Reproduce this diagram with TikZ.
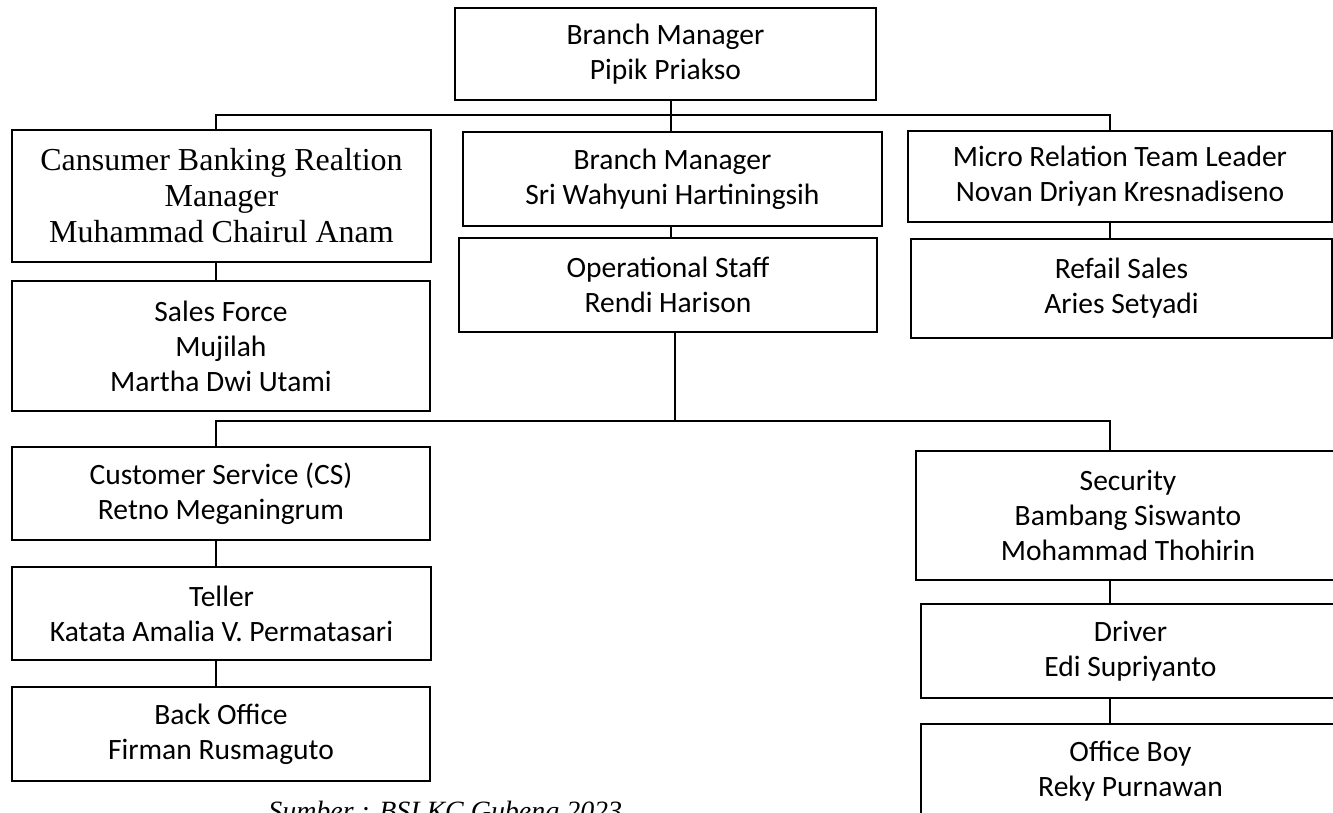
\documentclass[tikz,border=0pt]{standalone}
\usepackage{fontspec}
\setmainfont{Carlito}
\newfontfamily\timesfont{Liberation Serif}
\usepackage{tikz}
\usetikzlibrary{calc,positioning}

\newlength\px
\setlength\px{0.02cm}

\begin{document}
\begin{tikzpicture}[x=0.02cm,y=-0.02cm,
        post/.style={draw,line width=1.4pt,align=center,inner sep=0pt,
            font=\fontsize{16.8}{19.9}\selectfont},
        tie/.style={line width=1.4pt}]

                                \useasboundingbox (0,0) rectangle (1333,813);

                                % top level
                                \node[post,minimum width=421\px,minimum height=92\px] (bm) at (665.5,54) {Branch Manager\\Pipik Priakso};

                                % second level
                                \node[post,minimum width=419\px,minimum height=132\px,
                                    font=\timesfont\fontsize{18.2}{20.5}\selectfont] (cbrm) at (221.5,196) {Cansumer Banking Realtion\\Manager\\Muhammad Chairul Anam};
                                \node[post,minimum width=419\px,minimum height=94\px] (bmtwo) at (672.5,179) {Branch Manager\\Sri Wahyuni Hartiningsih};
                                \node[post,minimum width=424\px,minimum height=91\px] (micro) at (1120,176.5) {Micro Relation Team Leader\\Novan Driyan Kresnadiseno};

                                \node[post,minimum width=418\px,minimum height=130\px] (sales) at (221,346) {Sales Force\\Mujilah\\Martha Dwi Utami};
                                \node[post,minimum width=418\px,minimum height=94\px] (ops) at (668,285) {Operational Staff\\Rendi Harison};
                                \node[post,minimum width=421\px,minimum height=99\px] (retail) at (1121.5,288.5) {Refail Sales\\Aries Setyadi};

                                % operational branch
                                \node[post,minimum width=418\px,minimum height=93\px] (cs) at (221,493.5) {Customer Service (CS)\\Retno Meganingrum};
                                \node[post,minimum width=419\px,minimum height=93\px] (teller) at (221.5,613.5) {Teller\\Katata Amalia V. Permatasari};
                                \node[post,minimum width=418\px,minimum height=94\px] (back) at (221,734) {Back Office\\Firman Rusmaguto};

                                \node[post,minimum width=424\px,minimum height=129\px] (secur) at (1128,515.5) {Security\\Bambang Siswanto\\Mohammad Thohirin};
                                \node[post,minimum width=419\px,minimum height=94\px] (driver) at (1130.5,651) {Driver\\Edi Supriyanto};
                                \node[post,minimum width=419\px,minimum height=95\px] (boy) at (1130.5,771.5) {Office Boy\\Reky Purnawan};

                                % buses and columns of the ties
                                \coordinate (busA) at (0,115);
                                \coordinate (busB) at (0,421);
                                \coordinate (colL) at (216,0);
                                \coordinate (colM) at (671,0);
                                \coordinate (colR) at (1110,0);

                                \draw[tie] (colM |- bm.south) -- (colM |- busA);
                                \draw[tie] (colL |- cbrm.north) |- (colR |- busA) -- (colR |- micro.north);
                                \draw[tie] (colM |- bmtwo.north) -- (colM |- busA);
                                \draw[tie] (colL |- cbrm.south) -- (colL |- sales.north);
                                \draw[tie] (colM |- bmtwo.south) -- (colM |- ops.north);
                                \draw[tie] (colR |- micro.south) -- (colR |- retail.north);

                                \draw[tie] ([xshift=4\px]colM |- ops.south) -- ([xshift=4\px]colM |- busB);
                                \draw[tie] (colL |- cs.north) |- (colR |- busB) -- (colR |- secur.north);
                                \draw[tie] (colL |- cs.south) -- (colL |- teller.north);
                                \draw[tie] (colL |- teller.south) -- (colL |- back.north);
                                \draw[tie] (colR |- secur.south) -- (colR |- driver.north);
                                \draw[tie] (colR |- driver.south) -- (colR |- boy.north);

                                \node[anchor=base west,inner sep=0pt,
                                    font=\timesfont\itshape\fontsize{15.9}{19}\selectfont] (source) at (268,821) {Sumber : BSI KC Gubeng 2023};
                            \end{tikzpicture}
\end{document}
